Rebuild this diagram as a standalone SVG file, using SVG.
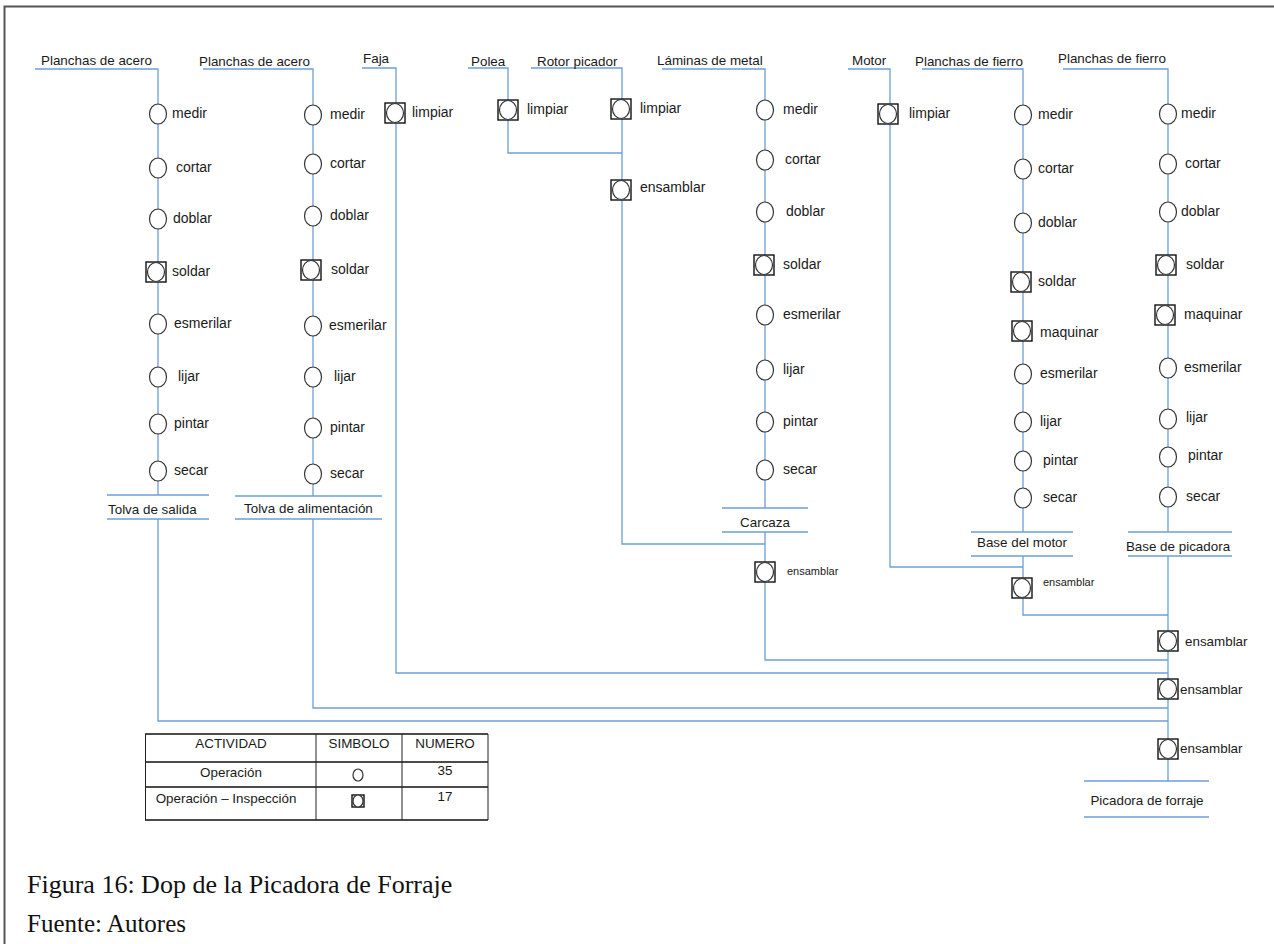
<svg xmlns="http://www.w3.org/2000/svg" width="1274" height="944" viewBox="0 0 1274 944">
  <defs>
    <style>
      .ln { fill: none; stroke: #6d9fd8; stroke-width: 1.3; }
      .op { fill: #fff; stroke: #333; stroke-width: 1.2; }
      .sq { fill: #fff; stroke: #111; stroke-width: 1.4; }
      .t { font-family: "Liberation Sans", Arial, sans-serif; font-size: 13.4px; fill: #1a1a1a; }
      .l { font-family: "Liberation Sans", Arial, sans-serif; font-size: 14px; fill: #1a1a1a; }
      .ts { font-family: "Liberation Sans", Arial, sans-serif; font-size: 11px; fill: #1a1a1a; }
      .c { text-anchor: middle; }
      .cap { font-family: "Liberation Serif", "Times New Roman", serif; fill: #111; }
      .tb { stroke: #111; stroke-width: 1.5; }
      .tv { stroke: #222; stroke-width: 1; }
    </style>
    <!-- operation: plain circle -->
    <ellipse id="opc" cx="0" cy="0" rx="8.5" ry="10" class="op"/>
    <!-- combined operation-inspection: circle inside a square -->
    <g id="opi">
      <rect x="-10" y="-10" width="20" height="20" class="sq"/>
      <ellipse cx="0" cy="0" rx="8.5" ry="9.5" class="op"/>
    </g>
  </defs>

  <rect width="1274" height="944" fill="#fff"/>
  <!-- page frame -->
  <path d="M4.5,944 V6.5 H1274" fill="none" stroke="#555" stroke-width="2"/>

  <!-- flow lines -->
  <g id="connectors" class="ln">
    <path d="M35,69 H158 V495"/>
    <path d="M158,519 V721 H1168"/>
    <path d="M203,69 H313 V496"/>
    <path d="M313,519 V708 H1168"/>
    <path d="M362,68 H396 V673 H1168"/>
    <path d="M468,68 H508 V153 H622"/>
    <path d="M531,68 H622 V544 H765"/>
    <path d="M662,69 H765 V508"/>
    <path d="M765,532 V660 H1168"/>
    <path d="M848,69 H890 V567 H1023"/>
    <path d="M922,69 H1023 V532"/>
    <path d="M1023,556 V615 H1168"/>
    <path d="M1063,69 H1168 V532"/>
    <path d="M1168,556 V781"/>
  </g>

  <!-- material 1 -->
  <g id="col-acero-1">
    <text class="t" x="41" y="65">Planchas de acero</text>
    <use href="#opc" x="158" y="114"/><text class="l" x="172" y="118">medir</text>
    <use href="#opc" x="158" y="168"/><text class="l" x="176" y="172">cortar</text>
    <use href="#opc" x="158" y="219"/><text class="l" x="173" y="223">doblar</text>
    <use href="#opi" x="156" y="272"/><text class="l" x="172" y="276">soldar</text>
    <use href="#opc" x="158" y="324"/><text class="l" x="174" y="328">esmerilar</text>
    <use href="#opc" x="158" y="377"/><text class="l" x="178" y="381">lijar</text>
    <use href="#opc" x="158" y="424"/><text class="l" x="174" y="428">pintar</text>
    <use href="#opc" x="158" y="471"/><text class="l" x="174" y="475">secar</text>
  </g>
  <g id="tolva-salida">
    <path class="ln" d="M107,495 H209 M107,519 H209"/>
    <text class="t" x="108" y="514">Tolva de salida</text>
  </g>

  <!-- material 2 -->
  <g id="col-acero-2">
    <text class="t" x="199" y="66">Planchas de acero</text>
    <use href="#opc" x="313" y="115"/><text class="l" x="330" y="119">medir</text>
    <use href="#opc" x="313" y="164"/><text class="l" x="330" y="168">cortar</text>
    <use href="#opc" x="313" y="216"/><text class="l" x="330" y="220">doblar</text>
    <use href="#opi" x="311" y="270"/><text class="l" x="331" y="274">soldar</text>
    <use href="#opc" x="313" y="326"/><text class="l" x="329" y="330">esmerilar</text>
    <use href="#opc" x="313" y="377"/><text class="l" x="334" y="381">lijar</text>
    <use href="#opc" x="313" y="428"/><text class="l" x="330" y="432">pintar</text>
    <use href="#opc" x="313" y="474"/><text class="l" x="330" y="478">secar</text>
  </g>
  <g id="tolva-alimentacion">
    <path class="ln" d="M235,496 H382 M235,519 H382"/>
    <text class="t" x="244" y="513">Tolva de alimentación</text>
  </g>

  <!-- belt -->
  <g id="col-faja">
    <text class="t" x="363" y="63">Faja</text>
    <use href="#opi" x="395" y="113"/><text class="l" x="412" y="117">limpiar</text>
  </g>

  <!-- pulley -->
  <g id="col-polea">
    <text class="t" x="471" y="66">Polea</text>
    <use href="#opi" x="508" y="110"/><text class="l" x="527" y="114">limpiar</text>
  </g>

  <!-- cutting rotor -->
  <g id="col-rotor">
    <text class="t" x="537" y="66">Rotor picador</text>
    <use href="#opi" x="621" y="109"/><text class="l" x="640" y="113">limpiar</text>
    <use href="#opi" x="621" y="190"/><text class="l" x="640" y="192">ensamblar</text>
  </g>

  <!-- metal sheets -->
  <g id="col-laminas">
    <text class="t" x="657" y="65">Láminas de metal</text>
    <use href="#opc" x="765" y="110"/><text class="l" x="783" y="114">medir</text>
    <use href="#opc" x="765" y="160"/><text class="l" x="785" y="164">cortar</text>
    <use href="#opc" x="765" y="212"/><text class="l" x="786" y="216">doblar</text>
    <use href="#opi" x="764" y="265"/><text class="l" x="783" y="269">soldar</text>
    <use href="#opc" x="765" y="315"/><text class="l" x="783" y="319">esmerilar</text>
    <use href="#opc" x="765" y="370"/><text class="l" x="783" y="374">lijar</text>
    <use href="#opc" x="765" y="422"/><text class="l" x="783" y="426">pintar</text>
    <use href="#opc" x="765" y="470"/><text class="l" x="783" y="474">secar</text>
  </g>
  <g id="carcaza">
    <path class="ln" d="M722,508 H808 M722,532 H808"/>
    <text class="t c" x="765" y="527">Carcaza</text>
    <use href="#opi" x="765" y="572"/><text class="ts" x="787" y="575">ensamblar</text>
  </g>

  <!-- motor -->
  <g id="col-motor">
    <text class="t" x="852" y="65">Motor</text>
    <use href="#opi" x="888" y="114"/><text class="l" x="909" y="118">limpiar</text>
  </g>

  <!-- iron sheets 1 -->
  <g id="col-fierro-1">
    <text class="t" x="915" y="66">Planchas de fierro</text>
    <use href="#opc" x="1023" y="115"/><text class="l" x="1038" y="119">medir</text>
    <use href="#opc" x="1023" y="169"/><text class="l" x="1038" y="173">cortar</text>
    <use href="#opc" x="1023" y="223"/><text class="l" x="1038" y="227">doblar</text>
    <use href="#opi" x="1021" y="282"/><text class="l" x="1038" y="286">soldar</text>
    <use href="#opi" x="1022" y="331"/><text class="l" x="1040" y="337">maquinar</text>
    <use href="#opc" x="1023" y="374"/><text class="l" x="1040" y="378">esmerilar</text>
    <use href="#opc" x="1023" y="422"/><text class="l" x="1040" y="426">lijar</text>
    <use href="#opc" x="1023" y="461"/><text class="l" x="1043" y="465">pintar</text>
    <use href="#opc" x="1023" y="498"/><text class="l" x="1043" y="502">secar</text>
  </g>
  <g id="base-motor">
    <path class="ln" d="M971,532 H1073 M971,556 H1073"/>
    <text class="t c" x="1022" y="547">Base del motor</text>
    <use href="#opi" x="1022" y="588"/><text class="ts" x="1043" y="586">ensamblar</text>
  </g>

  <!-- iron sheets 2 -->
  <g id="col-fierro-2">
    <text class="t" x="1058" y="63">Planchas de fierro</text>
    <use href="#opc" x="1168" y="114"/><text class="l" x="1181" y="118">medir</text>
    <use href="#opc" x="1168" y="164"/><text class="l" x="1185" y="168">cortar</text>
    <use href="#opc" x="1168" y="212"/><text class="l" x="1181" y="216">doblar</text>
    <use href="#opi" x="1166" y="265"/><text class="l" x="1186" y="269">soldar</text>
    <use href="#opi" x="1165" y="315"/><text class="l" x="1184" y="319">maquinar</text>
    <use href="#opc" x="1168" y="368"/><text class="l" x="1184" y="372">esmerilar</text>
    <use href="#opc" x="1168" y="419"/><text class="l" x="1186" y="422">lijar</text>
    <use href="#opc" x="1168" y="457"/><text class="l" x="1188" y="460">pintar</text>
    <use href="#opc" x="1168" y="497"/><text class="l" x="1186" y="501">secar</text>
  </g>
  <g id="base-picadora">
    <path class="ln" d="M1128,532 H1232 M1128,556 H1232"/>
    <text class="t c" x="1178" y="551">Base de picadora</text>
  </g>

  <!-- final assembly -->
  <g id="ensamble-final">
    <use href="#opi" x="1168" y="641"/><text class="t" x="1185" y="646">ensamblar</text>
    <use href="#opi" x="1168" y="689"/><text class="t" x="1180" y="694">ensamblar</text>
    <use href="#opi" x="1168" y="749"/><text class="t" x="1180" y="753">ensamblar</text>
  </g>
  <g id="picadora-forraje">
    <path class="ln" d="M1084,781 H1209 M1084,817 H1209"/>
    <text class="t c" x="1147" y="805">Picadora de forraje</text>
  </g>

  <!-- summary table -->
  <g id="tabla-resumen">
    <path class="tb" d="M145,734 H488 M145,762 H488 M145,787 H488 M145,820 H488"/>
    <path class="tv" d="M145.5,734 V820 M316,734 V820 M402,734 V820 M488,734 V820"/>
    <text class="t c" x="231" y="748">ACTIVIDAD</text>
    <text class="t c" x="359" y="748">SIMBOLO</text>
    <text class="t c" x="445" y="748">NUMERO</text>
    <text class="t c" x="231" y="777">Operación</text>
    <ellipse cx="358" cy="775" rx="5" ry="6" class="op" stroke-width="1"/>
    <text class="t c" x="445" y="775">35</text>
    <text class="t c" x="226" y="803" font-size="14">Operación – Inspección</text>
    <rect x="352" y="795" width="12" height="12" class="sq" stroke-width="1"/>
    <ellipse cx="358" cy="801" rx="5" ry="6" class="op" stroke-width="1"/>
    <text class="t c" x="445" y="801">17</text>
  </g>

  <!-- caption -->
  <g id="leyenda">
    <text class="cap" x="27" y="893" font-size="26">Figura 16: Dop de la Picadora de Forraje</text>
    <text class="cap" x="27" y="932" font-size="25">Fuente: Autores</text>
  </g>
</svg>
